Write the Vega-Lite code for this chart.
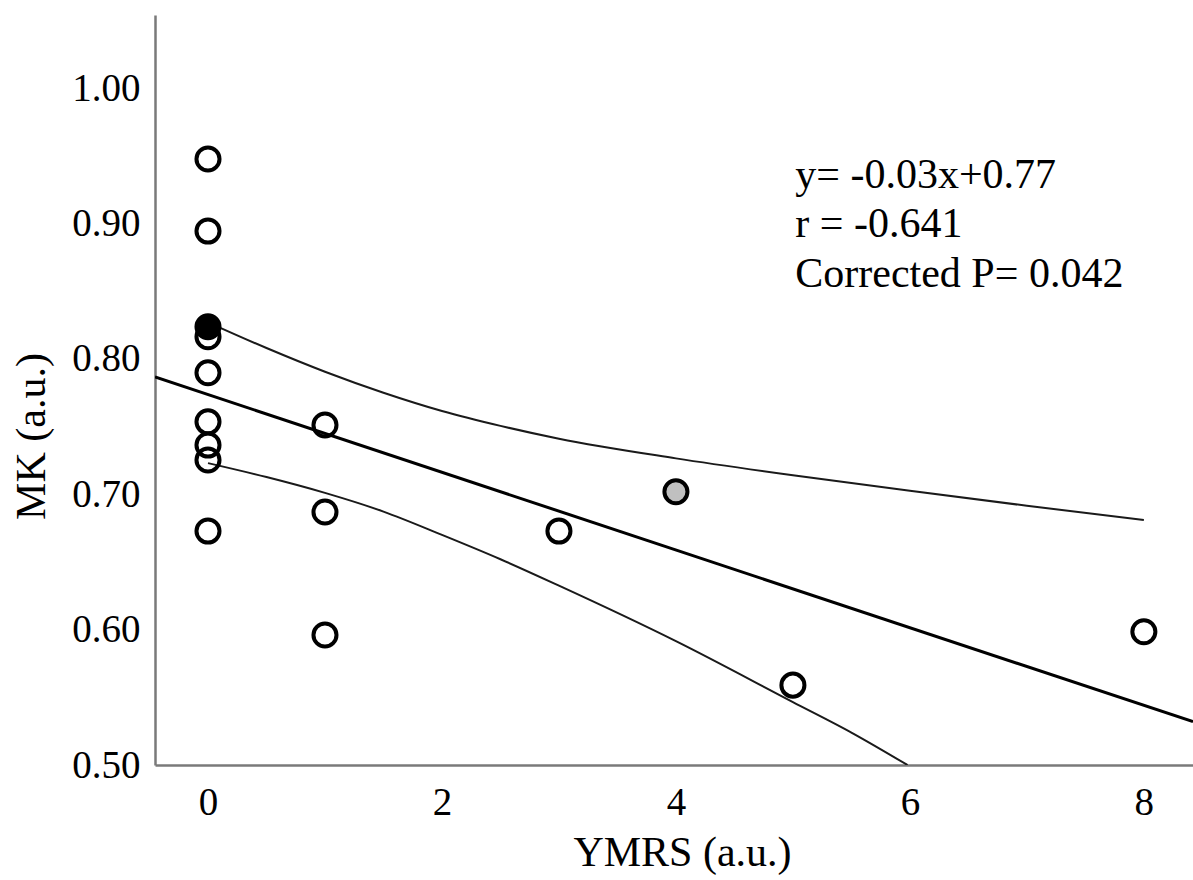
{
  "$schema": "https://vega.github.io/schema/vega-lite/v6.json",
  "width": 1038,
  "height": 750,
  "autosize": "none",
  "padding": {"left": 155, "top": 15, "right": 0, "bottom": 115},
  "background": "white",
  "config": {
    "view": {"stroke": null},
    "font": "Liberation Serif",
    "axis": {
      "grid": false,
      "ticks": false,
      "tickSize": 0,
      "domainColor": "#7a7a7a",
      "domainWidth": 2.5,
      "labelFont": "Liberation Serif",
      "labelFontSize": 39,
      "labelColor": "#000000",
      "titleFont": "Liberation Serif",
      "titleFontSize": 42,
      "titleFontWeight": "normal",
      "titleColor": "#000000"
    }
  },
  "datasets": {
    "points": [
      {"ymrs": 0, "mk": 0.9476, "kind": "open"},
      {"ymrs": 0, "mk": 0.8944, "kind": "open"},
      {"ymrs": 0, "mk": 0.8163, "kind": "open"},
      {"ymrs": 0, "mk": 0.7897, "kind": "open"},
      {"ymrs": 0, "mk": 0.7535, "kind": "open"},
      {"ymrs": 0, "mk": 0.7363, "kind": "open"},
      {"ymrs": 0, "mk": 0.7253, "kind": "open"},
      {"ymrs": 0, "mk": 0.6728, "kind": "open"},
      {"ymrs": 1, "mk": 0.7511, "kind": "open"},
      {"ymrs": 1, "mk": 0.6869, "kind": "open"},
      {"ymrs": 1, "mk": 0.5960, "kind": "open"},
      {"ymrs": 3, "mk": 0.6728, "kind": "open"},
      {"ymrs": 5, "mk": 0.5590, "kind": "open"},
      {"ymrs": 8, "mk": 0.5984, "kind": "open"},
      {"ymrs": 4, "mk": 0.7018, "kind": "gray"},
      {"ymrs": 0, "mk": 0.8237, "kind": "black"}
    ],
    "fit": [
      {"series": "fit", "x": -0.453, "y": 0.7866},
      {"series": "fit", "x": 8.42, "y": 0.532},
      {"series": "upper", "x": 0, "y": 0.827},
      {"series": "upper", "x": 0.5, "y": 0.808},
      {"series": "upper", "x": 1, "y": 0.7905},
      {"series": "upper", "x": 1.5, "y": 0.775},
      {"series": "upper", "x": 2, "y": 0.7615},
      {"series": "upper", "x": 2.5, "y": 0.7505},
      {"series": "upper", "x": 3, "y": 0.741},
      {"series": "upper", "x": 4, "y": 0.7265},
      {"series": "upper", "x": 5, "y": 0.714},
      {"series": "upper", "x": 6, "y": 0.7025},
      {"series": "upper", "x": 7, "y": 0.6915},
      {"series": "upper", "x": 8, "y": 0.681},
      {"series": "lower", "x": 0, "y": 0.723},
      {"series": "lower", "x": 0.5, "y": 0.7127},
      {"series": "lower", "x": 1, "y": 0.701},
      {"series": "lower", "x": 1.5, "y": 0.6872},
      {"series": "lower", "x": 2, "y": 0.670},
      {"series": "lower", "x": 2.5, "y": 0.652},
      {"series": "lower", "x": 3, "y": 0.6325},
      {"series": "lower", "x": 4, "y": 0.5915},
      {"series": "lower", "x": 5, "y": 0.5465},
      {"series": "lower", "x": 5.5, "y": 0.524},
      {"series": "lower", "x": 5.98, "y": 0.5}
    ],
    "notes": [
      {"label": "y= -0.03x+0.77", "x": 5.02, "y": 0.926},
      {"label": "r = -0.641", "x": 5.02, "y": 0.890},
      {"label": "Corrected P= 0.042", "x": 5.02, "y": 0.853}
    ]
  },
  "layer": [
    {
      "data": {"name": "fit"},
      "transform": [{"filter": "datum.series === 'upper' || datum.series === 'lower'"}],
      "mark": {"type": "line", "color": "#1a1a1a", "strokeWidth": 2, "clip": true, "interpolate": "monotone"},
      "encoding": {
        "x": {
          "field": "x", "type": "quantitative",
          "scale": {"domain": [-0.453, 8.42], "nice": false, "zero": false},
          "axis": {
            "values": [0, 2, 4, 6, 8],
            "format": "d",
            "labelPadding": 18,
            "title": "YMRS (a.u.)",
            "titleX": 527,
            "titleY": 100,
            "titleBaseline": "alphabetic",
            "titleAlign": "center"
          }
        },
        "y": {
          "field": "y", "type": "quantitative",
          "scale": {"domain": [0.5, 1.054], "nice": false, "zero": false},
          "axis": {
            "values": [0.5, 0.6, 0.7, 0.8, 0.9, 1.0],
            "format": ".2f",
            "labelPadding": 15,
            "title": "MK (a.u.)",
            "titleX": -124,
            "titleY": 421,
            "titleAngle": -90,
            "titleBaseline": "middle",
            "titleAlign": "center"
          }
        },
        "detail": {"field": "series"}
      }
    },
    {
      "data": {"name": "fit"},
      "transform": [{"filter": "datum.series === 'fit'"}],
      "mark": {"type": "line", "color": "#000000", "strokeWidth": 3, "clip": true},
      "encoding": {
        "x": {"field": "x", "type": "quantitative"},
        "y": {"field": "y", "type": "quantitative"}
      }
    },
    {
      "data": {"name": "points"},
      "mark": {"type": "point", "shape": "circle", "size": 531, "strokeWidth": 4, "stroke": "#000000", "opacity": 1, "filled": false},
      "encoding": {
        "x": {"field": "ymrs", "type": "quantitative"},
        "y": {"field": "mk", "type": "quantitative"},
        "fill": {
          "field": "kind", "type": "nominal",
          "scale": {"domain": ["open", "gray", "black"], "range": ["rgba(0,0,0,0)", "#c0c0c0", "#000000"]},
          "legend": null
        },
        "order": {"field": "kind", "sort": "descending"}
      }
    },
    {
      "data": {"name": "notes"},
      "mark": {"type": "text", "align": "left", "baseline": "alphabetic", "font": "Liberation Serif", "fontSize": 42, "color": "#000000"},
      "encoding": {
        "x": {"field": "x", "type": "quantitative"},
        "y": {"field": "y", "type": "quantitative"},
        "text": {"field": "label"}
      }
    }
  ]
}
